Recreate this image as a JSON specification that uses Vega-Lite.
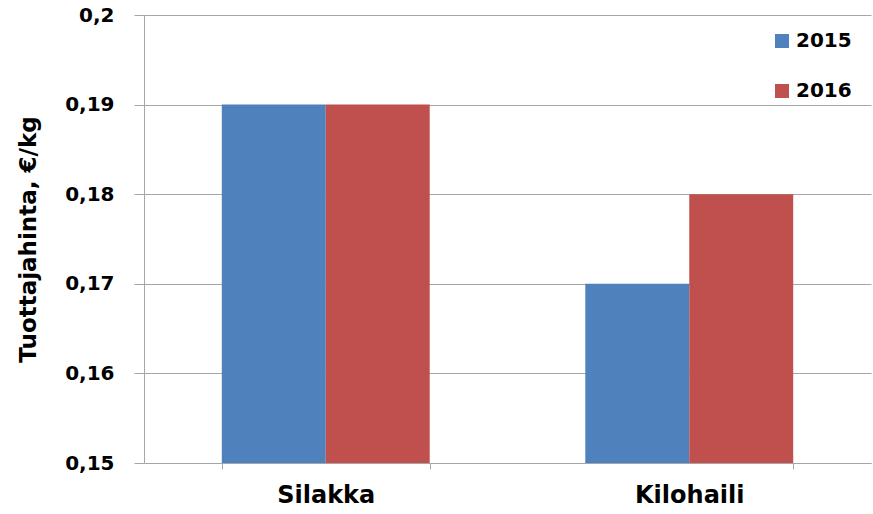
{
  "$schema": "https://vega.github.io/schema/vega-lite/v6.json",
  "autosize": "none",
  "width": 727,
  "height": 448,
  "padding": {"left": 144, "top": 15, "right": 2, "bottom": 51},
  "background": "white",
  "data": {
    "values": [
      {"laji": "Silakka", "vuosi": "2015", "hinta": 0.19},
      {"laji": "Silakka", "vuosi": "2016", "hinta": 0.19},
      {"laji": "Kilohaili", "vuosi": "2015", "hinta": 0.17},
      {"laji": "Kilohaili", "vuosi": "2016", "hinta": 0.18}
    ]
  },
  "mark": {"type": "bar", "clip": true},
  "encoding": {
    "x": {
      "field": "laji",
      "type": "nominal",
      "sort": ["Silakka", "Kilohaili"],
      "scale": {"paddingInner": 0.428, "paddingOuter": 0.214},
      "axis": {
        "title": null,
        "labelAngle": 0,
        "labelFont": "DejaVu Sans",
        "labelFontWeight": "bold",
        "labelFontSize": 24,
        "labelColor": "#000000",
        "labelPadding": 14,
        "tickBand": "extent",
        "tickSize": 6,
        "tickColor": "#A6A6A6",
        "domainColor": "#A6A6A6",
        "grid": false
      }
    },
    "xOffset": {"field": "vuosi", "type": "nominal", "scale": {"paddingInner": 0, "paddingOuter": 0}},
    "y": {
      "field": "hinta",
      "type": "quantitative",
      "scale": {"domain": [0.15, 0.2], "zero": false, "nice": false},
      "axis": {
        "title": "Tuottajahinta, €/kg",
        "titleFont": "DejaVu Sans",
        "titleFontWeight": "bold",
        "titleFontSize": 23,
        "titleColor": "#000000",
        "titlePadding": 24,
        "values": [0.15, 0.16, 0.17, 0.18, 0.19, 0.2],
        "labelExpr": "replace(format(datum.value, '.2~f'), '.', ',')",
        "labelFont": "DejaVu Sans",
        "labelFontWeight": "bold",
        "labelFontSize": 20,
        "labelColor": "#000000",
        "labelPadding": 20,
        "tickSize": 10,
        "tickColor": "#A6A6A6",
        "domainColor": "#A6A6A6",
        "grid": true,
        "gridColor": "#A6A6A6",
        "gridWidth": 1
      }
    },
    "color": {
      "field": "vuosi",
      "type": "nominal",
      "scale": {"domain": ["2015", "2016"], "range": ["#4F81BD", "#C0504D"]},
      "legend": {
        "title": null,
        "orient": "none",
        "legendX": 628,
        "legendY": 16,
        "symbolType": "square",
        "symbolSize": 196,
        "symbolStrokeWidth": 0,
        "labelFont": "DejaVu Sans",
        "labelFontWeight": "bold",
        "labelFontSize": 20,
        "labelColor": "#000000",
        "labelOffset": 4,
        "rowPadding": 30
      }
    }
  },
  "config": {"view": {"stroke": null}}
}
